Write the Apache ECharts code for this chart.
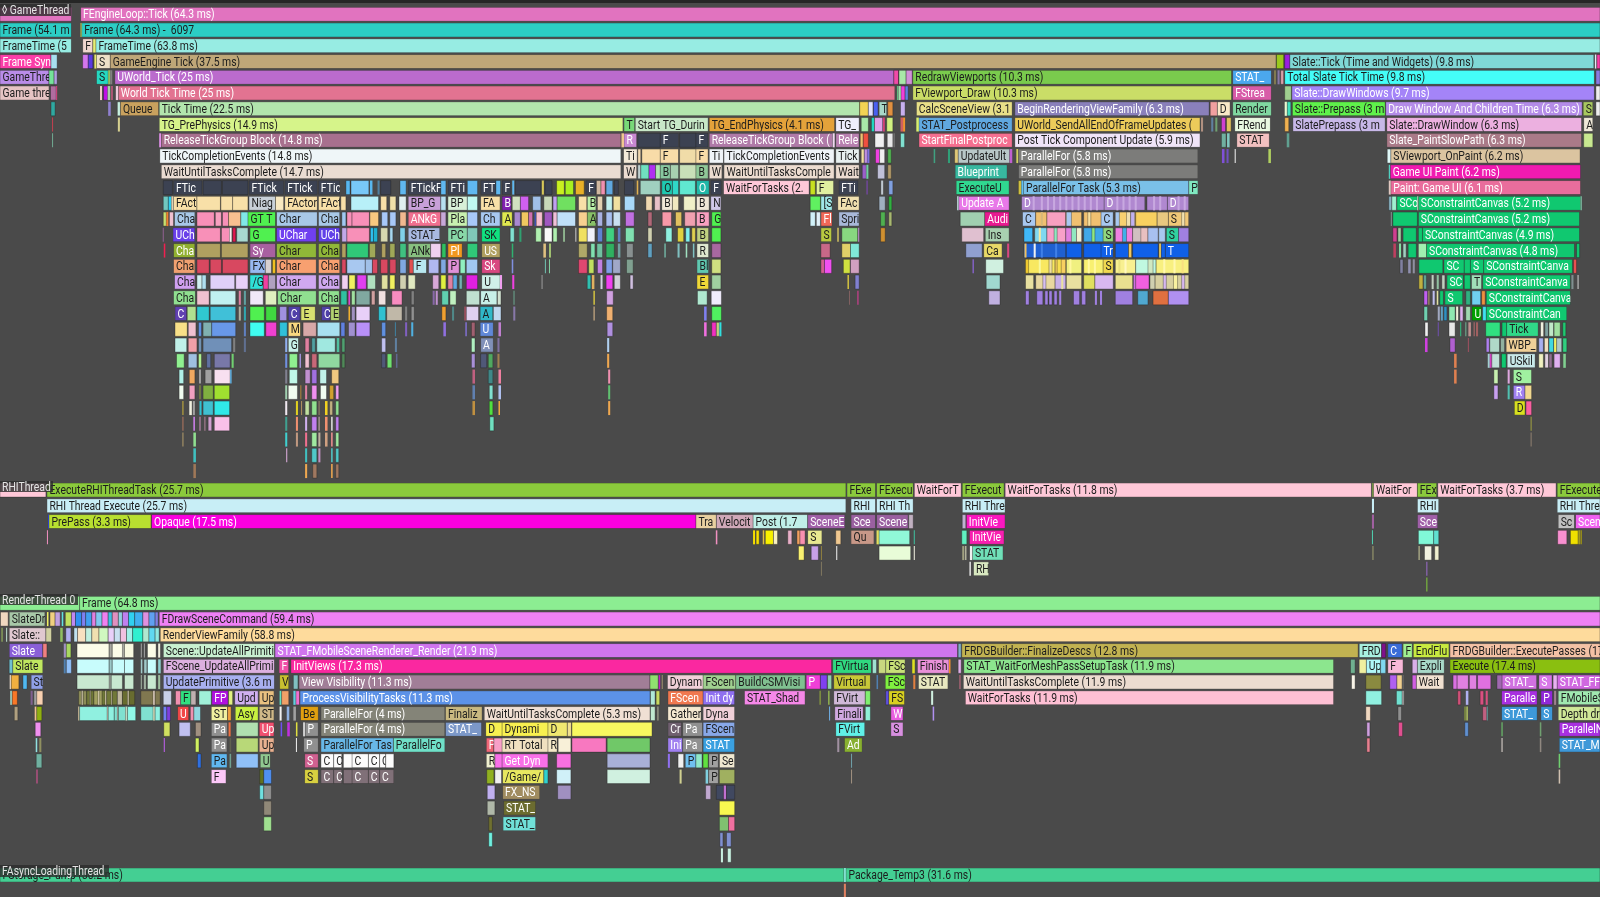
<!DOCTYPE html>
<html><head><meta charset="utf-8"><title>Timing Insights</title>
<style>html,body{margin:0;padding:0;background:#4a4a4a}#c{width:1600px;height:897px}</style>
<script src="https://cdn.jsdelivr.net/npm/echarts@6/dist/echarts.min.js"></script></head>
<body><div id="c"></div><script>
const D='#3c4252';
// each span: [start, end, event colour, label]  (time in timeline units)
const game0=[[0,70,'#e173bf'],[79,1568,'#e173bf','FEngineLoop::Tick (64.3 ms)']];
const game1=[[0,70,'#2ccdc4','Frame (54.1 m'],[79,80,'#d8ef56'],[80,1568,'#2ccdc4','Frame (64.3 ms) -  6097']];
const game2=[[0,70,'#97ece3','FrameTime (5'],[81,91,'#efd6cf','F'],[91,94,'#e5ee74'],[94,1568,'#97ece3','FrameTime (63.8 ms)']];
const game3=[[0,50,'#fb3ea8','Frame Syn'],[50,56,'#a8dff0'],[81,86.5,'#d476ee'],[86.5,91,'#5a3ae0'],[92.5,94.5,'#e8e86a'],[94.5,108,'#ede0c8','S'],[108,1250.5,'#bfa778','GameEngine Tick (37.5 ms)'],[1251,1258,'#9bc91e'],[1259,1264,'#9a1fe0'],[1264,1562,'#7fd8d6','Slate::Tick (Time and Widgets) (9.8 ms)'],[1563,1564.5,'#e8e8f8'],[1565,1568,'#fb3ea8']];
const game4=[[0,48,'#b98ce8','GameThre'],[48,53,'#74e29a'],[53,56,'#b0a0e0'],[94.5,106,'#25d8c0','S'],[106,108,'#90c060'],[108,110,'#808080'],[112.5,876,'#bb6bcd','UWorld_Tick (25 ms)'],[876,880.5,'#f04aa8'],[881,888,'#a8e8a8'],[888,894,'#d090d8'],[894.5,1207,'#7acb4d','RedrawViewports (10.3 ms)'],[1208,1246,'#4ba8ee','STAT_'],[1248.5,1250.5,'#807a50'],[1252,1254,'#8878a8'],[1255,1258,'#d8a0a8'],[1259,1562.5,'#44fdf8','Total Slate Tick Time (9.8 ms)'],[1564,1568,'#8a7ae0']];
const game5=[[0,48,'#e6c4c4','Game thre'],[49.5,55,'#b06ca0'],[55,56,'#d84080'],[98,100,'#f0c8c8'],[101.5,105.5,'#c010e8'],[105.5,108,'#a8d0a8'],[109,110.5,'#c85a80'],[113.5,116,'#eecadb'],[116,877,'#e27391','World Tick Time (25 ms)'],[879,880,'#60c080'],[880.5,883,'#a0e0b0'],[883,887,'#f040d8'],[887,890,'#6080e0'],[894.5,1207,'#cadd67','FViewport_Draw (10.3 ms)'],[1208,1246,'#d85ca8','FStrea'],[1259,1265.5,'#a0d090'],[1266,1562.5,'#a484f8','Slate::DrawWindows (9.7 ms)'],[1564,1568,'#eeeeee']];
const game6=[[50,54,'#30a8a0'],[106,108.5,'#9080d0'],[115,118,'#c8f0e0'],[118,155.5,'#c9a15e','Queue'],[156,842.5,'#b2e5ad','Tick Time (22.5 ms)'],[842.5,851,'#f2d354'],[851,855.5,'#e0e0ff'],[856,860.5,'#4a60f0'],[861.5,869,'#a8d8c8','T'],[870,875,'#e09040'],[882.5,887,'#c8b0f0'],[898,992,'#e8df88','CalcSceneView (3.1'],[994.5,1185,'#8a80bb','BeginRenderingViewFamily (6.3 ms)'],[1186,1193,'#f0a0a0'],[1193,1205.5,'#f8e8c8','D'],[1208,1246,'#80d8a0','Render'],[1259,1261.5,'#e8f8d0'],[1261.5,1265,'#40e0c0'],[1266.5,1357.5,'#5ff14b','Slate::Prepass (3 m'],[1358,1550.5,'#b48ce8','Draw Window And Children Time (6.3 ms)'],[1551.5,1561,'#a8c860','S'],[1564,1568,'#eeeeee']];
const game7=[[51,52,'#c04050'],[115.5,117.5,'#d6d090'],[156,610.5,'#d6f48a','TG_PrePhysics (14.9 ms)'],[611.5,622,'#78d878','T'],[622.5,694,'#c8e8c8','Start TG_Durin'],[695,818,'#e4a23a','TG_EndPhysics (4.1 ms)'],[819,842,'#eeeefc','TG_'],[844,851,'#a8e8a8'],[854,857,'#20d8c0'],[857,865,'#e0a0e8'],[865.5,867,'#f04080'],[869,875,'#d0f080'],[882.5,885,'#d06060'],[885,887,'#f09030'],[898,900.5,'#d8f070'],[900.5,992,'#60a8e0','STAT_Postprocess'],[994.5,1176,'#eccb5a','UWorld_SendAllEndOfFrameUpdates ('],[1177,1179,'#b09080'],[1187,1189,'#6080a0'],[1191,1193,'#70a070'],[1197,1201,'#d040d0'],[1202,1206.5,'#e0c060'],[1210,1245,'#e8f8e0','FRend'],[1259,1263,'#f0b050'],[1267,1357.5,'#c8b8e8','SlatePrepass (3 m'],[1359,1550,'#ecb0e0','Slate::DrawWindow (6.3 ms)'],[1552,1561,'#eee8d8','A']];
const game8=[[51,52,'#70a890'],[156,158,'#e090e8'],[158,608.5,'#a8708e','ReleaseTickGroup Block (14.8 ms)'],[609,611.5,'#f0c890'],[611.5,624,'#c888d0','R'],[625,647,D],[647,665,D,'F'],[666,682,D],[682,694,D,'F'],[695,816,'#b07aa8','ReleaseTickGroup Block ('],[816,818,'#f0d8f0'],[819,842,'#b880b0','Rele'],[843,846,'#f0c070'],[846,851,'#f05040'],[857.5,866.5,'#f0f0f0'],[869.5,875,'#e8e8e8'],[875.5,877,'#707070'],[882.5,886.5,'#80e0d0'],[900.5,992,'#f56f90','StartFinalPostproc'],[994.5,1176,'#f0e4f8','Post Tick Component Update (5.9 ms)'],[1197,1201.5,'#70b0a0'],[1202.5,1205,'#80c8c0'],[1212,1244,'#f2c0c0','STAT'],[1261,1263.5,'#60a090'],[1359,1550,'#aa7a88','Slate_PaintSlowPath (6.3 ms)'],[1552,1561,'#c8e890']];
const game9=[[156.5,608.5,'#eff6f8','TickCompletionEvents (14.8 ms)'],[611,624.5,'#f4ead8','Ti'],[625,628,'#f0d8b0'],[629,647,'#f8dca8'],[647,665,'#f8dca8','F'],[666,682,'#f0dca8'],[682,694,'#f8dca8','F'],[695,709,'#f0f4f8','Ti'],[709.5,817.5,'#f0f4f8','TickCompletionEvents'],[819,842,'#e8f0f0','Tick'],[844,847,'#f0e0a0'],[847,850,'#c090e0'],[850,852,'#8070e0'],[858,862,'#f040e0'],[862,867,'#f0f0f0'],[870,873.5,'#50b050'],[915,916.5,'#40a080'],[929,931,'#30a078'],[935.5,939,'#e0c878'],[939,989.5,'#b8c8c8','UpdateUlt'],[989.5,992,'#c060d0'],[996,998,'#d0d060'],[998,1174,'#7c7c7a','ParallelFor (5.8 ms)'],[1197.5,1200,'#8050d8'],[1202,1204,'#7050c0'],[1210,1211,'#f0f0f0'],[1243,1245.5,'#b0d060'],[1359.5,1363,'#e0f8f8'],[1363,1548.5,'#dbc4a0','SViewport_OnPaint (6.2 ms)']];
const game10=[[158,608.5,'#eadcd2','WaitUntilTasksComplete (14.7 ms)'],[611,624,'#ecdcd0','W'],[625,628,'#c0d0d0'],[628,636,'#70e0c0'],[636,642.5,'#b030f0'],[642.5,647,'#b0e8b0'],[647,657,'#88c8a0','B'],[657,665,'#a8d0b0'],[666,682,'#c8e0b8'],[682,694,'#90c898','B'],[695,707.5,'#ecdcd0','W'],[709.5,817.5,'#ecdcd0','WaitUntilTasksComple'],[819,842,'#ecdcd0','Wait'],[845,849,'#9a60c8'],[849,851,'#70d0a0'],[860,867,'#c0c0d8'],[870,873.5,'#b09868'],[936,987,'#38b8a0','Blueprint'],[998,1174,'#7c7c7a','ParallelFor (5.8 ms)'],[1361,1362.5,'#50d0c0'],[1362.5,1549,'#f01ab0','Game UI Paint (6.2 ms)']];
const game11=[[160,169,D],[170,198,D,'FTic'],[199,217,D],[218,243,D],[244,278,D,'FTick'],[279,311,D,'FTick'],[312,333,D,'FTic'],[339,343,'#58b8f0'],[344,361.5,'#78c8f8'],[362.5,365,'#58b8f0'],[370,372,'#5080a0'],[373,383,D],[392,398,'#60b8f0'],[400,432,D,'FTickF'],[432,437,'#60b8f0'],[439,457,D,'FTi'],[458,468,'#60b8f0'],[471,486,D,'FT'],[486,490.5,'#60b8f0'],[492,501,D,'F'],[502,504,'#60b8f0'],[505,530,D],[531,533,'#d8c858'],[534,541,D],[545.5,553,'#c8f020'],[554,562,'#a8f020'],[564,572.5,'#e8b028'],[574,584,D,'F'],[584.5,589,'#d0b8a0'],[589,593,'#f090b0'],[594,600.5,'#60a8e0'],[602,606,D],[612,621,D],[624,625.5,'#e0b050'],[627.5,647,'#a0d0c0'],[648.5,659,'#20c8b0','O'],[659,665,'#30d8c8'],[666,681.5,'#60e8d0'],[682.5,695,'#20b8a8','O'],[696.5,707,D,'F'],[709,793,'#ffc8d8','WaitForTasks (2.'],[794,799,'#c8e020'],[800,817,'#e0f0a0','F'],[822,841,D,'FTi'],[849,850.5,'#704898'],[863.5,865.5,'#c0c8d0'],[871,875,'#80a0e0'],[937,989,'#30d890','ExecuteU'],[998,1001,'#d0c040'],[1001,1003,'#60c0f0'],[1003,1165,'#7ac0e8','ParallelFor Task (5.3 ms)'],[1165,1174,'#80e8c0','P'],[1361,1363,'#e0c8c0'],[1363,1549,'#e96d9c','Paint: Game UI (6.1 ms)']];
const game12=[[160,165,'#70c8c0'],[165,168,'#30d0f0'],[168,170,'#e0d0b0'],[170,193,'#f8e0a8','FAct'],[193,216,'#f8e0a8'],[216.5,228,'#f8e0a8'],[228,243,'#f8e0a8'],[244,270,'#c8d0d8','Niag'],[270,278,'#f8e8c0'],[279,311,'#f8e0a8','FActor'],[312,333,'#f8e0a8','FAct'],[334,339,'#f8e0a8'],[344,371,'#b8f0f8'],[373,379,'#f8e0a8'],[382,388,'#f0e0a8'],[391,398,'#e0f0f0'],[400,432,'#c8a0d8','BP_G'],[432,437,'#b8e0f0'],[439,458,'#d8f0d8','BP'],[458,468,'#c0f8f0'],[471,490,'#f8e0a8','FA'],[492,501,'#8020b0','B'],[502,510,'#d0e0c0'],[510,518,'#d060f0'],[522,530,'#a0c0e8'],[533,541,'#c8d8b8'],[542,546,'#c0a0f0'],[546,564,'#70e060'],[567,575,'#f8e0a8'],[575.5,584,'#b8f0a8','B'],[585.5,590.5,'#e0d0b0'],[594,600,'#c0f0f0'],[601,608,'#f0e0a0'],[612,622,'#a8d8f8'],[633,639,'#f0d8b0'],[641.5,647,'#e8c0c8'],[648.5,659,'#f0e8d8','B'],[659,665,'#f0e8c0'],[670,681.5,'#f0f0c8'],[682.5,695,'#f0e8d8','B'],[696.5,706.5,'#d0c8e8','N'],[794,804,'#60f060'],[804.5,815.5,'#a0e8e8','[S'],[821,842,'#f0e0b0','FAc'],[861.5,867.5,'#a0b0c0'],[871,874,'#30b040'],[938,939.5,'#c0e0e0'],[939.5,989,'#e878e8','Update A'],[1001,1082,'#b088d0','D'],[1082,1122,'#b088d0','D'],[1124,1144,'#b088d0'],[1144,1165,'#b088d0','D'],[1361,1364,'#88b0c0'],[1364,1368.5,'#a0f0d0'],[1369,1389,'#10c870','SCo'],[1389,1390,'#e0f8e0'],[1390,1549,'#10c870','SConstraintCanvas (5.2 ms)'],[1549,1550,'#90e0c0']];
const game12Slices=[[1012,1014,'#c8a8e0'],[1020,1022,'#c8a8e0'],[1026,1028,'#c8a8e0'],[1032,1034,'#c8a8e0'],[1038,1040,'#c8a8e0'],[1044,1046,'#c8a8e0'],[1050,1052,'#c8a8e0'],[1056,1058,'#c8a8e0'],[1062,1064,'#c8a8e0'],[1068,1070,'#c8a8e0'],[1074,1076,'#c8a8e0'],[1094,1096,'#c8a8e0'],[1100,1102,'#c8a8e0'],[1106,1108,'#c8a8e0'],[1112,1114,'#c8a8e0'],[1130,1132,'#c8a8e0'],[1136,1138,'#c8a8e0'],[1154,1156,'#c8a8e0'],[1160,1162,'#c8a8e0']];
const game13=[[160,163,'#c8e070'],[163,165,'#f08030'],[166,170,'#f0c0d0'],[171,191,'#a8c8e8','Cha'],[193,210,'#f890b8'],[211,217,'#f8a0c0'],[218,224,'#f890b8'],[224,236,'#f8c090'],[236,243,'#80e8e8'],[243,270,'#50f050','GT T'],[271,311,'#a8c8e8','Char'],[312,333,'#a8c8e8','Cha'],[335,339,'#a0c8f0'],[340,345,'#f890b8'],[345,362,'#f890b8'],[362.5,371,'#f8c880'],[374,380,'#a8c8f8'],[382,388,'#a8c8f8'],[392,398,'#f0b890'],[400,432,'#f07090','ANkG'],[432,437,'#c8a8d8'],[439,458,'#c8f0b0','Pla'],[458,468,'#a8c8f8'],[471,490,'#a8c8f0','Ch'],[492,502,'#e0e850','A'],[504,510,'#a888d0'],[511,518,'#f0c860'],[518,522,'#d070b0'],[524,525,'#4060f0'],[525.5,531.5,'#f8c0d0'],[533.5,541,'#a058c0'],[542,546,'#f0c0d8'],[546,564,'#c0e0f8'],[567,575.5,'#f8d090'],[575.5,584,'#88c068','A'],[585.5,590.5,'#a8b0e0'],[594,600,'#a8c0f0'],[601,608,'#c8e0f0'],[613,621.5,'#c070e0'],[635,639,'#b06878'],[649,658,'#f898a8'],[662,668,'#e0c060'],[671,681.5,'#f0a0b0'],[682.5,695,'#f8a0c0','B'],[697.5,706.5,'#50f050','G'],[794,799,'#d0f0f8'],[800,804,'#e0f0f8'],[804.5,815.5,'#f06858','Fl'],[822,842,'#a8b8d8','Spri'],[863,867.5,'#50b050'],[871,874,'#a8b870'],[941,965,'#a0d0b0'],[965,989,'#e81a90','Audi'],[1002,1015,'#a8c8f0','C'],[1015,1026,'#f0c070'],[1026,1044.5,'#f8a0c0'],[1044.5,1060,'#f0c070'],[1062,1079,'#f0c070'],[1079,1091,'#a8c8f0','C'],[1093,1113,'#f8d070'],[1113,1134,'#f8d060'],[1134,1145,'#e8c880'],[1145,1165,'#f0c878','S'],[1363,1364,'#809090'],[1365,1389,'#10c870'],[1390,1548,'#10c870','SConstraintCanvas (5.2 ms)']];
const game13Slices=[[1020,1022,'#d8b878'],[1045,1050,'#a8c8f0'],[1066,1069,'#f8e0a0'],[1093,1097,'#a8c8f0'],[1104,1108,'#f0e0b0'],[1108,1112,'#c0b0f0'],[1158,1161,'#f0e0b0']];
const game14=[[159.5,160.5,'#906090'],[169.5,191,'#6a40e8','UCh'],[193,216,'#f890b8'],[217,225,'#f890b8'],[225,227,'#f8f0f0'],[228,231,'#e01850'],[232,243,'#a8d8d0'],[245,270,'#50f050','G'],[271,310,'#7040f0','UChar'],[312,333,'#6040e8','UCh'],[335,340,'#c0a8e8'],[340,362,'#f890b8'],[363,366,'#30c0f0'],[366,370,'#20b0d0'],[373,380,'#d8d8b0'],[382,385,'#a8d8f0'],[392,397,'#80d0e8'],[400,431,'#a8b8e0','STAT_'],[439,458,'#88d8a8','PC'],[458,468,'#80c8b8'],[472,490,'#10e080','SK'],[500,504,'#80e0d0'],[509,511,'#30a070'],[525,530.5,'#b0f0b0'],[533.5,541,'#f8f8f8'],[542,546,'#b0f0b0'],[552,553.5,'#a0d0a0'],[563.5,565,'#a0a0a0'],[567,575.5,'#f0e060'],[575.5,583,'#f0f0f8'],[585.5,590.5,'#6080d0'],[594,602,'#40d080'],[605.5,608,'#6080c0'],[613,621.5,'#80e0b0'],[635,639,'#d0d0b0'],[652.5,658.5,'#90f0e0'],[664,670,'#e0d040'],[672,676,'#80f0f0'],[678,681.5,'#e0d050'],[683,694.5,'#c0d080','B'],[697.5,706.5,'#50f050'],[804.5,815,'#b8c840','S'],[820.5,822,'#d0c060'],[825,840.5,'#88d880'],[841,842,'#c090d0'],[863,867.5,'#d09030'],[942.5,964,'#e0c0d0'],[965.5,989,'#a8d0b0','Ins'],[1003.5,1012,'#40b8f8'],[1014,1026,'#80d8f0'],[1026,1044.5,'#f8a0c8'],[1044.5,1060,'#e080e0'],[1062,1081,'#40a8e8'],[1081,1091,'#90d880','S'],[1093,1110,'#f080e0'],[1110,1135.5,'#d0c0c0'],[1135.5,1142,'#a8c8f0'],[1143,1155,'#30d0a0','S'],[1155,1165,'#a080e0'],[1365,1369,'#d04090'],[1370,1373,'#a0d0a0'],[1375,1388,'#10c870'],[1390,1394,'#10c870'],[1394,1548,'#10c870','SConstraintCanvas (4.9 ms)']];
const game14Slices=[[1018,1020,'#f8e8a0'],[1033,1036,'#90e8c0'],[1050,1055,'#90e8c0'],[1055,1060,'#f0f0d0'],[1070,1073,'#90e880'],[1100,1104,'#40b0e8'],[1118,1125,'#e8c0c0'],[1125,1135,'#a8c0f0']];
const game15=[[160.5,162,'#f02050'],[170,191,'#90b030','Cha'],[193,216,'#b0a060'],[217,243,'#b0a060'],[245,270,'#a860a0','Sy'],[271,310,'#90b838','Char'],[312,333,'#90b838','Cha'],[335,339,'#b0a060'],[340,361,'#30c878'],[362,368,'#a0a858'],[374,378,'#b0a060'],[382,387,'#a0a858'],[392,398,'#40c080'],[400,422,'#88c080','ANk'],[422,432,'#f0d0f0'],[433,437,'#30c060'],[439,453,'#f09820','Pl'],[458,468,'#30c878'],[472,490,'#b0a060','US'],[501.5,503,'#30b070'],[532.5,535,'#e0c080'],[538,540,'#a0c070'],[567,575.5,'#b0a868'],[579,583,'#80e0b0'],[585,590.5,'#70c0a0'],[594,602,'#30b060'],[605.5,608,'#70a0a0'],[614,620.5,'#889090'],[635,639,'#60a0c0'],[651,652.5,'#70b0a0'],[664,666,'#80c0c0'],[672,673.5,'#a0e0c0'],[679,680.5,'#80c0c0'],[683,694.5,'#e0e8d0','R'],[697.5,706.5,'#a868a0'],[804.5,813.5,'#c86888'],[825,833.5,'#e0d068'],[833.5,842,'#80e8d8'],[946.5,962.5,'#90a0d0'],[964,982,'#e8d868','Ca'],[987,989,'#d84880'],[1003.5,1044.5,'#2060d0'],[1045,1060,'#1060e8'],[1062,1079,'#1060e8'],[1079,1091,'#1060e8','Tr'],[1093,1106,'#1060e8'],[1106,1109,'#f0c860'],[1110,1135,'#1060e8'],[1136,1138,'#f0d060'],[1138,1142,'#1060e8'],[1142,1165,'#1060e8','T'],[1365.5,1368,'#c04060'],[1371,1373,'#80e0a0'],[1375,1378,'#a0d0c0'],[1380,1388,'#10c870'],[1390,1398,'#a0f0b0'],[1398,1543,'#10c870','SConstraintCanvas (4.8 ms)'],[1545,1548,'#10c870']];
const game15Slices=[[1004,1006,'#f0c060'],[1013,1015,'#f0f0f0'],[1020,1022,'#4080e8'],[1034,1036,'#4080e8']];
const game16=[[170,191,'#f0a070','Cha'],[193,205,'#d84860'],[206,217,'#d84860'],[218,243,'#d84860'],[245,260,'#98b8f0','FX'],[260,266,'#d8d0d0'],[267,270,'#f0c020'],[271,310,'#f8a070','Char'],[312,333,'#f8a070','Cha'],[335,339,'#d84860'],[340,358,'#a8c8f0'],[358,365,'#a0c0e8'],[365,370,'#d84860'],[373,380,'#d84860'],[382,388,'#d84860'],[392,398,'#80a8e0'],[401,405,'#e05050'],[405,418,'#b8e8f0','F'],[420,430,'#b0b8f0'],[432,437,'#80a8e0'],[439,450,'#e090d8','P'],[451,456,'#90f0c0'],[457,468,'#a0c8f0'],[472,490,'#d84880','Sk'],[501.5,503,'#8090e0'],[534,535,'#70c0b0'],[538,539,'#80d0a0'],[567,575.5,'#e04870'],[577,582,'#c0e060'],[585.5,590.5,'#c080e0'],[594,600,'#80a0e8'],[600.5,608,'#a0a8c8'],[614,620.5,'#80a090'],[683,694.5,'#60c8b0','Bl'],[697.5,706.5,'#d0e080'],[804.5,808,'#d06090'],[808,815,'#f050f0'],[826.5,833,'#d0e040'],[833.5,842,'#d0a0c0'],[953,954.5,'#8060c0'],[966,983.5,'#d0f0e0'],[1005,1034,'#f8e860'],[1034,1044.5,'#f8d060'],[1045,1060,'#f0f080'],[1062,1081,'#f8f070'],[1081,1091,'#f0d850','S'],[1093,1113,'#f8f090'],[1113,1133,'#c0f8e0'],[1133,1165,'#f8f080'],[1372,1375,'#8080a0'],[1380,1382.5,'#9090b0'],[1384.5,1386.5,'#9090a0'],[1390.5,1414,'#10c870'],[1415,1435,'#10c870','SC'],[1435,1441,'#10c870'],[1441,1454,'#10c870','S'],[1454,1541,'#10c870','SConstraintCanva'],[1542,1545,'#e85050']];
const game16Slices=[[1005,1008,'#f0c830'],[1018,1020,'#f8f8a0'],[1028,1031,'#f0e0a0'],[1036,1040,'#f8e050'],[1048,1050,'#fff8a0'],[1066,1068,'#fff8a0'],[1072,1074,'#fff8a0'],[1096,1098,'#e8e080'],[1102,1104,'#fff8c0'],[1125,1130,'#d0e8c0'],[1140,1142,'#fff8b0'],[1150,1152,'#fff8b0'],[1158,1160,'#f8e080']];
const game17=[[171,191,'#d0a0f0','Cha'],[193,198,'#d0f0f0'],[198,202,'#b0e0f0'],[206,230,'#e0d0f8'],[231,243,'#e8d0f8'],[245,258,'#30e0d8','/G'],[258,263,'#f040a0'],[263,270,'#b0a0c0'],[271,310,'#d0a8f0','Char'],[312,333,'#d0a8f0','Cha'],[335,341,'#f0d0f0'],[342,348,'#f0f060'],[350,359,'#e040f0'],[360,368,'#b0e0c0'],[374,380,'#e0e0a0'],[382,387,'#f0f060'],[392,398,'#d0d0b0'],[400,407,'#e0e8c0'],[424,430,'#d8a8d8'],[432,437,'#e0f040'],[439,444,'#e080a0'],[444,448,'#60a8e0'],[450,453,'#70b0b0'],[457,468,'#e020e0'],[472,490,'#d0f0e8','U'],[490,492,'#f0a0f0'],[502,504,'#f040e0'],[530.5,532,'#808080'],[575.5,579,'#30c0b0'],[580,582.5,'#e0b060'],[588.5,590.5,'#d0d0e0'],[594,600.5,'#f040f0'],[602,608,'#d0d0d8'],[617.5,620.5,'#d0c0e0'],[683,694.5,'#f0d838','E'],[697.5,706.5,'#a0d0a0'],[830.5,832,'#d0c040'],[838,842,'#8080d0'],[966.5,980,'#a0d8d0'],[1005,1013,'#e8e0a0'],[1015,1034,'#e8d8a0'],[1034,1044.5,'#c8b0e8'],[1045,1060,'#e8e0a0'],[1062,1073,'#e0e060'],[1073,1091,'#d8b8f0'],[1093,1110,'#e8e090'],[1111,1113,'#d070e0'],[1113,1126,'#f060e0'],[1127,1132,'#d0d0b0'],[1132,1165,'#d8d0a0'],[1390.5,1394.5,'#c0b040'],[1395,1398,'#60a090'],[1403,1405,'#c0d0c0'],[1408,1410,'#90c0a0'],[1413,1416,'#c0d0c0'],[1418,1434,'#10c870','SC'],[1435,1441,'#10c870'],[1442,1452,'#a0e0b8','T'],[1453,1539,'#10c870','SConstraintCanva'],[1540,1542,'#809090'],[1546,1547,'#d0d0d0']];
const game17Slices=[[1022,1025,'#d8c0f0'],[1040,1042,'#e8e0a0'],[1140,1143,'#d8b8f0'],[1150,1154,'#f8f0a0'],[1158,1161,'#d8b8f0']];
const game18=[[170,191.5,'#90e090','Cha'],[193,205,'#f0c0d0'],[206,231,'#c0f0f0'],[234,236,'#e080a0'],[239,241,'#60a0a0'],[245,258,'#f0e8f8'],[260,271,'#e0f0c0'],[272,310,'#90e090','Char'],[312,332.5,'#90e090','Cha'],[334,340,'#30c0a0'],[341.5,343,'#e040d0'],[344.5,348,'#a0e0a0'],[349,362.5,'#80a8a0'],[364,367.5,'#d0a0a0'],[371,378,'#f0e0e0'],[384,394,'#f88cc0'],[403,406,'#808080'],[424,426,'#8868a8'],[427,429,'#c090d0'],[433,439.5,'#60d0b0'],[441,447,'#c0f0c0'],[457,470,'#c0e0d0'],[471,487,'#c8f0e8','A'],[487.5,491,'#d0e0d0'],[503,504.5,'#608878'],[581.5,583,'#d0c040'],[594.5,601,'#d0a0e0'],[683.5,693,'#b0e8d0'],[697,707,'#f0ecfc'],[832,833,'#806060'],[840,841.5,'#b04080'],[969,980,'#c0b0e0'],[1005,1008.5,'#a080e0'],[1016,1022,'#a080e0'],[1024,1027,'#a080e0'],[1028,1031,'#a080e0'],[1033,1036,'#a080e0'],[1038,1040,'#a080e0'],[1052,1058,'#a080e0'],[1060,1064,'#a080e0'],[1073,1075,'#a080e0'],[1078,1080,'#a080e0'],[1093,1110,'#a080e0'],[1115,1125,'#50a8d0'],[1130,1145,'#e07040'],[1145,1165,'#b090f0'],[1395.5,1399,'#c060f0'],[1399.5,1401,'#908060'],[1404,1406,'#c0c0f0'],[1408,1409.5,'#e0e0a0'],[1411,1414.5,'#10c870'],[1416,1433.5,'#10c870','S'],[1436.5,1441,'#30b080'],[1442.5,1451,'#70d0f0'],[1452,1455.5,'#f09040'],[1456.5,1539,'#10c870','SConstraintCanva']];
const game19=[[171.5,183,'#6040b0','C'],[183.5,192,'#b0e090'],[193,205,'#30c8d0'],[206,231,'#40c0d8'],[234,236,'#b0b0a0'],[239,241,'#30a8b0'],[245,259,'#50f050'],[260.5,271,'#40d840'],[274,281,'#a090e0'],[282.5,294,'#5040a8','C'],[295,309,'#d8e070','E'],[315,323.5,'#5040a8','C'],[324,332.5,'#b0d070','E'],[341.5,343,'#f0b030'],[344.5,348,'#a090c0'],[349,362.5,'#e8d0f8'],[371,378,'#30c0d0'],[379,394,'#c0b8a8'],[397,399,'#808080'],[403,406,'#909090'],[433,437,'#f0a030'],[443,445,'#508888'],[455,457,'#a05060'],[457,469,'#e0d0f0'],[470.5,483,'#30b8c8','A'],[483.5,491,'#c0d8f0'],[503,505,'#8878a8'],[581.5,583,'#b09878'],[594.5,600.5,'#f0b070'],[690,692.5,'#8080f0'],[697.5,707,'#50f060'],[1395.5,1399,'#70d0b0'],[1409,1411,'#a0a8c0'],[1412,1414,'#60a0c0'],[1415,1418,'#3090c0'],[1420,1426,'#90e8b0'],[1427,1429,'#f0f0d8'],[1431,1433.5,'#e0b0f0'],[1436.5,1441,'#a0d8b0'],[1442.5,1452,'#00a000','U'],[1453,1456.5,'#40e0f0'],[1456.5,1535.5,'#10c870','SConstraintCan']];
const game20=[[171.5,183.5,'#f8e088'],[184.5,192,'#f0c0d0'],[194.5,197.5,'#6090e0'],[199,207.5,'#80b0b0'],[207.5,231,'#6898e8'],[239,241,'#6080c0'],[245,259,'#40fdf0'],[260.5,271,'#f040d0'],[274,281.5,'#30c0d8'],[282.5,294.5,'#f8d880','M'],[297,310,'#d8a8a8'],[311,333,'#a8e0f0'],[334,338,'#6080e0'],[341.5,348,'#a090d0'],[349,362.5,'#b890f8'],[374,378,'#6090e0'],[387,388,'#4080a0'],[397,399,'#8060c0'],[403,405,'#50b0e0'],[434.5,437,'#9070e0'],[456,457.5,'#8070d0'],[462,465.5,'#a06070'],[470.5,483.5,'#6088d8','U'],[488.5,491,'#c080d0'],[595,600.5,'#b090e0'],[690,692.5,'#f070e0'],[697.5,702,'#f030c0'],[702,705,'#c0d080'],[705,707,'#30e0e0'],[1396.5,1399.5,'#f0f0f0'],[1409,1410,'#7050b0'],[1420,1426,'#e8e8e8'],[1431,1432,'#30c080'],[1436,1437,'#70b090'],[1439,1441.5,'#c09090'],[1444,1445.5,'#906060'],[1446.5,1448.5,'#a06060'],[1456,1470,'#30e080'],[1472,1476.5,'#10c870'],[1476.5,1507.5,'#30d888','Tick'],[1510,1512.5,'#f0f0e0'],[1514,1517.5,'#80a0a0'],[1518,1522.5,'#c0e8c8'],[1523,1529,'#a0e0a0'],[1531.5,1534.5,'#20c870']];
const game21=[[171.5,183,'#c0f0e8'],[184.5,193,'#f0a0a8'],[194.5,197.5,'#7090b0'],[199,227,'#7090b8'],[228.5,230.5,'#808080'],[239,241,'#607090'],[279.5,281.5,'#90b0f0'],[282.5,292.5,'#c8f0e8','G'],[299,303,'#e080a0'],[305.5,309,'#50a0a0'],[310.5,328.5,'#a0e8e0'],[330,332.5,'#50c0a0'],[335,338,'#50a070'],[374,378,'#c0c0f0'],[387,389,'#6080a0'],[462,465.5,'#b0f0c0'],[471,483.5,'#8090b8','A'],[487.5,489.5,'#8070a0'],[595,597,'#b0d0f0'],[1396.5,1399,'#d040e0'],[1421,1426,'#b060d0'],[1438.5,1439.5,'#a05060'],[1456.5,1459.5,'#b080f0'],[1460,1469.5,'#b0d8c8'],[1470.5,1474.5,'#90b0a0'],[1476,1506,'#f0d098','WBP_'],[1508,1512.5,'#a8b0f0'],[1513.5,1517.5,'#f0e0c0'],[1518,1522.5,'#40d8e0'],[1523,1525.5,'#f0f060'],[1525.5,1530.5,'#b0c8c8'],[1531.5,1535.5,'#30d080']];
const game22=[[173,180.5,'#90f090'],[184.5,193,'#a0c0e0'],[194.5,197.5,'#b0f090'],[202.5,206.5,'#6070a0'],[210,225.5,'#7878a8'],[227,229,'#70d070'],[279.5,281.5,'#7090e0'],[283.5,291.5,'#90f090'],[293.5,295,'#a090d8'],[299,303,'#f0c0d0'],[305.5,310.5,'#c86878'],[312,333,'#90d8a0'],[335,338,'#508858'],[374,378,'#505878'],[379.5,384,'#70e070'],[388,389.5,'#606890'],[462,465.5,'#a890d8'],[471,477,'#505878'],[478.5,483,'#50a860'],[487.5,489.5,'#a08050'],[595,597,'#f0a850'],[1425,1427.5,'#e08050'],[1458,1460,'#a0d0d0'],[1460,1462,'#d040c0'],[1462,1469.5,'#c0e0d8'],[1471.5,1476,'#10c870'],[1477,1504.5,'#c8e8e8','USkil'],[1508,1512.5,'#f0f0c0'],[1514,1517.5,'#e0d0e0'],[1518,1521,'#907090'],[1523,1529,'#e0b0f0'],[1532,1534.5,'#80d090']];
const game23=[[175.5,180,'#b0f0e8'],[185.5,191,'#f0a860'],[195.5,196.5,'#f0f0f0'],[201,207.5,'#a0a0a0'],[210,225.5,'#f8e0f0'],[225.5,227,'#60b0e0'],[279.5,281.5,'#808090'],[283.5,291.5,'#c0f8e8'],[299,304,'#c090d0'],[305.5,310.5,'#a070e0'],[313.5,320,'#c0f0e8'],[325,332,'#f0c880'],[463,465.5,'#c06080'],[478.5,483,'#408888'],[488.5,491,'#f080a0'],[596,598,'#f090b0'],[1425,1427.5,'#e08050'],[1464,1468,'#c8f0b0'],[1477.5,1479.5,'#e0a8e0'],[1483,1501,'#a0f0a0','S']];
const game24=[[175.5,180,'#f0fcf0'],[185.5,191,'#f0a0c0'],[195.5,196.5,'#90a040'],[199,209,'#80b040'],[210,225,'#a0e030'],[279.5,281.5,'#a0d0b0'],[282.5,291.5,'#f0fcf0'],[294,295.5,'#907040'],[299,301,'#e080a0'],[305.5,310.5,'#f090f0'],[314,320,'#f0fcf0'],[323,327,'#d0a030'],[329,332,'#f0a0f0'],[463,465.5,'#6080b0'],[479.5,483,'#80e0d0'],[488.5,491,'#b0c0f0'],[596,598,'#60c070'],[1464,1468,'#c8a0f0'],[1477.5,1479.5,'#50c0b0'],[1483,1494.5,'#a080f0','R'],[1494.5,1501,'#f0d890']];
const game25=[[178.5,180,'#a09040'],[185.5,188,'#f0f0e0'],[189,191,'#a0a0a0'],[195.5,197.5,'#30c0d0'],[199,209,'#40c0d0'],[210,225,'#30e8e8'],[279.5,281.5,'#f0e8f0'],[290,292,'#e0d020'],[295,296,'#b09060'],[299,303,'#c0e0a0'],[305.5,310.5,'#90e090'],[312,313.5,'#807060'],[318.5,321,'#f0d020'],[323,326,'#c0b080'],[329,332,'#90e090'],[463,465.5,'#c09040'],[479.5,483,'#50e040'],[488.5,490,'#f0a840'],[596,598,'#f0a850'],[1484,1494.5,'#d8e020','D'],[1495.5,1501,'#f860a0']];
const game26=[[178.5,180,'#906858'],[189.5,191,'#d080f0'],[195.5,196.5,'#d090c0'],[200,201.5,'#907080'],[204,207.5,'#d0a0d0'],[210,225,'#f8c0e8'],[279.5,281.5,'#40a090'],[290,292,'#f09070'],[299,301,'#d0b0f0'],[305.5,310.5,'#c080f0'],[312,313.5,'#a09090'],[318.5,321,'#f09070'],[324.5,326,'#e0e0e0'],[329,332,'#c080f0'],[480,484,'#70e0c0'],[1500,1501,'#a0a040']];
const game27=[[178.5,180,'#908060'],[189.5,192,'#90e090'],[279.5,281.5,'#40d0d0'],[290,292,'#c09880'],[299,301,'#f07090'],[305.5,310.5,'#a0e8a0'],[312,314,'#c0b0a0'],[318.5,321,'#d0a080'],[324.5,326,'#f09090'],[329,332,'#a0e8a0'],[1500,1501,'#908070']];
const game28=[[189.5,192,'#40c0c0'],[280.5,281.5,'#e0b0e0'],[299,301,'#40c0c0'],[305.5,310.5,'#50c8c8'],[312,314,'#c090c0'],[324.5,326,'#50c8c8'],[329,332,'#50c8c8']];
const game29=[[189.5,192,'#a07858'],[299,301,'#f0a850'],[306.5,310.5,'#a07860'],[324.5,326,'#f0a850'],[329,332,'#a07860']];

const rhi0=[[0,45,'#ffc8d8'],[46,829,'#8bca3c','ExecuteRHIThreadTask (25.7 ms)'],[830,858,'#8bca3c','FExe'],[859,895,'#8bca3c','FExecu'],[896,942,'#ffc8d8','WaitForT'],[943,984,'#8bca3c','FExecut'],[985,1344,'#ffc8d8','WaitForTasks (11.8 ms)'],[1345,1346,'#8bca3c'],[1346,1389,'#ffc8d8','WaitFor'],[1389,1408,'#8bca3c','FEx'],[1409,1525,'#ffc8d8','WaitForTasks (3.7 ms)'],[1526,1568,'#8bca3c','FExecute']];
const rhi1=[[46,829,'#c8eef6','RHI Thread Execute (25.7 ms)'],[834,858,'#c8eef6','RHI'],[859,895,'#c8eef6','RHI Th'],[943,985,'#c8eef6','RHI Thre'],[1344.5,1346.5,'#c8eef6'],[1389,1410,'#c8eef6','RHI'],[1526,1568,'#c8eef6','RHI Thre']];
const rhi2=[[47,48,'#3040d0'],[48,148,'#b8e030','PrePass (3.3 ms)'],[148.5,682,'#fa00e0','Opaque (17.5 ms)'],[682,702,'#e8d0a0','Tra'],[702,738,'#d0a8b8','Velocit'],[738,791.5,'#c0f0e8','Post (1.7'],[791.5,828,'#a060a8','SceneE'],[834,858,'#9a60a0','Sce'],[859,890,'#9a60a0','Scene'],[890.5,895,'#c0b0c0'],[943,946.5,'#c0b0d0'],[947,985,'#fa18c0','InitVie'],[1344.5,1346.5,'#a060a0'],[1389,1409,'#a060a8','Sce'],[1527,1543,'#c0c0c0','Sc'],[1544,1568,'#f060f0','Scen']];
const rhi3=[[46,47,'#f090c0'],[701.5,703,'#f090c0'],[738,740,'#f8e000'],[741,744,'#f8e000'],[747.5,749,'#e0c040'],[750,758,'#f8f000'],[758,762,'#f8f0c0'],[772,776,'#e8b0c8'],[781,784,'#f0a060'],[784,789,'#f890b0'],[791.5,805.5,'#e8e890','S'],[819,824,'#f0c890'],[834,856.5,'#c89888','Qu'],[859,861.5,'#e0e060'],[861.5,891.5,'#90f8d8'],[895.5,896.5,'#40c0a0'],[942.5,947.5,'#60f0c0'],[950,984,'#f820b0','InitVie'],[1344.5,1345.5,'#50d0b0'],[1390,1405,'#80f8d8'],[1405,1410,'#60e0d0'],[1526.5,1535.5,'#f890d0'],[1539,1546.5,'#f0e000'],[1547,1548,'#e0d000'],[1549,1550,'#c0b000']];
const rhi4=[[782.5,788,'#f8f070'],[795,802,'#c8a0e8'],[804.5,805.5,'#908040'],[819.5,820.5,'#f0f0f0'],[861.5,892.5,'#e8fcd8'],[895.5,896.5,'#f0f0e0'],[943,945,'#a0a080'],[946,947,'#e0e0c0'],[950.5,953,'#f0f0f0'],[953,983,'#70e0b8','STAT'],[1345,1346,'#a0a070'],[1390,1391.5,'#a0a080'],[1396,1403,'#f0f0e0'],[1406,1410,'#f0f0d0']];
const rhi5=[[804.5,805.5,'#807860'],[950,951.5,'#e0e0e0'],[954,969,'#d8e8c0','RH'],[1397.5,1399,'#8060a0']];
const rhi6=[[1397.5,1399,'#70a040']];

const rt0=[[0,78,'#8ced92'],[78,1568,'#8ced92','Frame (64.8 ms)']];
const rt1=[[0.5,8,'#f0d8c0'],[9,44,'#a8c8a8','SlateDr'],[46,47.5,'#f0f060'],[49,54,'#f0d080'],[54,59,'#c0a0e0'],[60.5,62,'#60e0e0'],[64,70,'#c0e060'],[70,74,'#c088f0'],[74,80,'#3090f0'],[80,84,'#8080f0'],[84,90,'#40a0f0'],[90,94,'#e080e0'],[94,100,'#80c8f0'],[100,106,'#f080f0'],[106,110,'#40c0e0'],[110,116,'#e090c0'],[116,120,'#90d0e0'],[120,126,'#c080f0'],[126,132,'#30d0f0'],[132,140,'#40b0f0'],[140,146,'#e090e0'],[146,152,'#60a0f0'],[152,155,'#8080e0'],[156,1568,'#ee80f5','FDrawSceneCommand (59.4 ms)']];
const rt2=[[1.5,2.5,'#a0c060'],[6,7,'#c0e0d0'],[9,45,'#e0c8d0','Slate::'],[45,50.5,'#d0d0a0'],[59,61.5,'#90c060'],[64.5,69.5,'#b0b0f0'],[72.5,76,'#c0e0f0'],[76,84,'#f8e0c0'],[84,90,'#c0f0e0'],[90,97,'#f0e0b0'],[97,106,'#d0f8c0'],[106,112,'#e8d0f8'],[112,118,'#c8e0f0'],[118,124,'#f0c0e0'],[124,130,'#a0f0e8'],[130,140,'#30f0d0'],[140,146,'#b0e8d0'],[146,152,'#60d8f0'],[152,156,'#90e8e0'],[157,1568,'#fedb9c','RenderViewFamily (58.8 ms)']];
const rt3=[[9,42,'#8a5fd8','Slate'],[42,46,'#f08080'],[62.5,65,'#a090c0'],[65,69.5,'#a8d860'],[75.5,107,'#fcfce8'],[107,110,'#a8a8a0'],[110,120,'#fcfce8'],[120,122,'#a8a8a0'],[122,131,'#f8f8e0'],[138,139,'#a0a0a0'],[141,142,'#a0a0a0'],[144.5,153,'#fcfce8'],[155,157,'#f0f0e0'],[160,269,'#c8f0d0','Scene::UpdateAllPrimiti'],[269.5,938.5,'#d075ee','STAT_FMobileSceneRenderer_Render (21.9 ms)'],[939,942,'#80b0c8'],[942.5,1331,'#c1b251','FRDGBuilder::FinalizeDescs (12.8 ms)'],[1332,1354,'#a8f0e0','FRD'],[1354,1358,'#80108a'],[1360,1374,'#3a6cd8','C'],[1375,1384,'#a0f090','F'],[1385,1420,'#c8ea40','EndFlu'],[1421,1568,'#f3c1a5','FRDGBuilder::ExecutePasses (17']];
const rt4=[[9,12.5,'#70c0d0'],[12.5,42,'#c0e860','Slate'],[62.5,64.5,'#5080b0'],[65,70,'#90c0f8'],[75.5,107,'#c8fcfc'],[107,110,'#9cc8c8'],[110,122,'#c8fcfc'],[122,131,'#c8fcfc'],[138,139.5,'#a0c8c8'],[141,144,'#a0c8c8'],[144.5,153,'#c8fcfc'],[155,157.5,'#90d0d0'],[160,269,'#dcb0e0','FScene_UpdateAllPrimi'],[273.5,283,'#f050a8','F'],[285,815,'#fa28a0','InitViews (17.3 ms)'],[816,854,'#30d880','FVirtua'],[855,859,'#a0e0d0'],[861,868,'#c8d880'],[868,887,'#c8e078','FSc'],[894,896.5,'#e0e020'],[899,930,'#e890d8','Finish'],[930,931.5,'#f09030'],[939,942,'#e0b0e8'],[944.5,1307,'#8ce68e','STAT_WaitForMeshPassSetupTask (11.9 ms)'],[1323.5,1328,'#70b090'],[1332,1339,'#f0f0a0'],[1339,1353,'#b0f8f8','Up'],[1353,1358,'#80d8f0'],[1360,1375,'#f8b8d8','F'],[1384,1389,'#d8b0e8'],[1389,1415.5,'#a8d8c8','Expli'],[1421,1568,'#8abf10','Execute (17.4 ms)']];
const rt5=[[9.5,11,'#f0e0d0'],[11,18.5,'#f0b040'],[22.5,26.5,'#50b8f0'],[30.5,42,'#90a0e8','St'],[75.5,107,'#c8e8d0'],[107,109,'#909890'],[109,120,'#c8e8d0'],[122,131,'#c8e8d0'],[138,139,'#a0b0a0'],[141,143,'#a0b0a0'],[144.5,153,'#c8e8d0'],[155,157,'#a0c0a0'],[160,269,'#a8b0f0','UpdatePrimitive (3.6 m'],[274,283,'#c8c030','V'],[287.5,292,'#80c0c0'],[293,637,'#a17e97','View Visibility (11.3 ms)'],[637,645,'#90e070'],[645.5,647,'#c020c0'],[648.5,649.5,'#a09070'],[654,689,'#f0d0d8','Dynam'],[689,721,'#a0d090','FScen'],[721,789,'#80c090','BuildCSMVisi'],[790,804,'#f040d8','P'],[804,810.5,'#8040f0'],[811,815,'#90d0b0'],[817,853,'#c8c838','Virtual'],[859,860.5,'#5080b0'],[867.5,887,'#80f040','FSc'],[895,897,'#e08040'],[900,929,'#e8e8c0','STAT'],[940,941.5,'#a06070'],[944,1307,'#ecdcd0','WaitUntilTasksComplete (11.9 ms)'],[1324.5,1328,'#f8f4e8'],[1338.5,1353.5,'#8a8a40'],[1362,1369,'#b060f0'],[1369,1374,'#f0d090'],[1374.5,1375.5,'#707070'],[1384,1388,'#d060e0'],[1388,1415,'#f0e0d0','Wait'],[1424,1428,'#d870e0'],[1428,1439,'#e080e0'],[1440,1447,'#e080e0'],[1448,1461,'#e070e0'],[1467,1472,'#a068b0'],[1472,1506,'#d070e0','STAT_'],[1508,1521,'#d878e8','S'],[1522,1526,'#e8b0f0'],[1526,1568,'#d068e0','STAT_FF']];
const rt6=[[10,12,'#a0d0c0'],[12,17,'#f87828'],[30,32,'#806090'],[33.5,36,'#a0a0a0'],[36,42,'#f8d0b0'],[77,80,'#8c8c58'],[80,81.5,'#c8c0a0'],[81.5,85,'#8c8c58'],[85,88,'#707838'],[88,89,'#c8c0a0'],[89,92,'#707838'],[92,96,'#a0a060'],[96,97.5,'#c8c0a0'],[97.5,100,'#a0a060'],[100,103,'#707838'],[103,104.5,'#c8c0a0'],[104.5,109,'#707838'],[109,110,'#c8c0a0'],[110,115,'#707838'],[115,120,'#c0b8a0'],[120,125,'#686c30'],[125,126.5,'#c8c0a0'],[126.5,132,'#686c30'],[138,150,'#807850'],[150,152,'#d0c0b0'],[152,157,'#807850'],[160,168,'#c8d0e8'],[172,177,'#f090b0'],[177,187,'#30e080','F'],[187,192,'#c0b0b0'],[195,207,'#a0f0d8'],[207.5,223.5,'#b010e0','FP'],[224,228,'#e0f080'],[230,253,'#d0b0f0','Upd'],[254,268.5,'#e8c080','Up'],[274,276,'#60e0c0'],[276,283,'#f0a068'],[287.5,290,'#60d0e0'],[290,293.5,'#f070d0'],[294,637,'#5c92e8','ProcessVisibilityTasks (11.3 ms)'],[637.5,642,'#b0e8d8'],[643,646.5,'#c8d860'],[654.5,689,'#f07850','FScen'],[689,720,'#8f70f0','Init dy'],[729.5,789,'#f588e8','STAT_Shad'],[803,804.5,'#809040'],[811.5,813,'#90b050'],[817,848,'#d0b8d8','FVirt'],[848,853,'#80f070'],[868,871,'#6050e0'],[871,886.5,'#d8d020','FS'],[912.5,914.5,'#d0f0e0'],[946,1307,'#fec0d4','WaitForTasks (11.9 ms)'],[1338.5,1354,'#90f0e0'],[1368.5,1374,'#70e0d0'],[1374,1376,'#909090'],[1428.5,1431.5,'#d05078'],[1436.5,1439,'#b0b0f0'],[1450.5,1454,'#d85080'],[1456,1458,'#d85080'],[1471.5,1506.5,'#a830e0','Paralle'],[1510,1521.5,'#9028d8','P'],[1523,1525,'#a08090'],[1527,1568,'#a0e8b0','FMobileS']];
const rt7=[[14,17.5,'#b0a080'],[34,36,'#f0c090'],[36,41,'#90b010'],[76.5,78,'#c0b090'],[78,105,'#90f0e0'],[105,106,'#c0b8a8'],[106,112,'#90f0e0'],[112,115,'#80e0d0'],[115,116,'#c0b8a8'],[116,123,'#80e0d0'],[123,125,'#c0d8c0'],[125,133,'#90f8e8'],[138,150,'#80e0d0'],[150,152,'#c0d0b0'],[152,157,'#90f0e0'],[160,163.5,'#7080f0'],[163.5,167,'#8040e0'],[174,185,'#f04848','U'],[186.5,190,'#f090b0'],[190,196.5,'#90d8e0'],[207,223,'#f0f0a0','ST'],[223,226.5,'#f0a040'],[230.5,253,'#c8f040','Asy'],[254,268.5,'#d0b888','ST'],[274,276,'#f0f0f0'],[281,283.5,'#90b0e0'],[287.5,290,'#a0a0a0'],[294.5,312,'#e0a010','Be'],[314.5,436,'#848478','ParallelFor (4 ms)'],[436.5,472.5,'#c8b880','Finaliz'],[474.5,637,'#f0e0d4','WaitUntilTasksComplete (5.3 ms)'],[637.5,642,'#c0e8d0'],[644,645.5,'#909080'],[654.5,687,'#f4e8d0','Gather'],[689,720,'#f0d0d8','Dyna'],[812.5,813.5,'#70b0e8'],[818,846,'#d0a8e0','Finali'],[848,853,'#90f0d8'],[873,885,'#e860e0','W'],[914,915.5,'#b090f0'],[1338.5,1343,'#f0d8c0'],[1370,1373.5,'#909090'],[1435,1436.5,'#809040'],[1437,1438.5,'#b0c060'],[1453,1457,'#c06080'],[1457,1458,'#60a0a0'],[1471.5,1506.5,'#3e98d8','STAT_'],[1510,1521.5,'#3e98d8','S'],[1527,1568,'#d0e898','Depth dr']];
const rt8=[[34.5,40,'#f090f0'],[160.5,166.5,'#d0e060'],[175.5,186.5,'#c0c0f0'],[191.5,197,'#a09080'],[207,223,'#909090','Pa'],[224,226,'#f07040'],[231.5,253,'#b0e0b0'],[254,268.5,'#f05070','Up'],[275,276.5,'#7050f0'],[281.5,284,'#c030e0'],[290,291.5,'#e0e040'],[297,299,'#d0d0d0'],[299,312,'#909090','P'],[314.5,436,'#848478','ParallelFor (4 ms)'],[436.5,472,'#7c98c8','STAT_'],[476,492,'#f8f050','D'],[492,537,'#f8f050','Dynami'],[537,556,'#f0e870','D'],[556,560,'#f0e090'],[560.5,639,'#f8f860'],[654.5,668,'#706070','Cr'],[669,688.5,'#909090','Pa'],[689,720,'#88a8e8','FScen'],[819,847.5,'#60f0e8','FVirt'],[873,885,'#d890e0','S'],[1339.5,1342.5,'#d0a0e0'],[1370.5,1374.5,'#e05090'],[1435.5,1439,'#6090d0'],[1471.5,1472.5,'#70d070'],[1509,1510.5,'#70a070'],[1528,1568,'#a830e0','ParallelN']];
const rt9=[[35,36.5,'#90e0e0'],[38.5,40.5,'#909060'],[160.5,161.5,'#c060f0'],[191.5,195,'#d0f060'],[207,222.5,'#909090','Pa'],[225,226.5,'#606050'],[231.5,253,'#b8d878'],[254,268.5,'#e8b090','Up'],[290,291,'#f0f0f0'],[297.5,312,'#909090','P'],[314.5,385.5,'#68b8e8','ParallelFor Tas'],[385.5,436,'#70e0c8','ParallelFo'],[476.5,484,'#f06878','P'],[484,492,'#f8a0c8'],[492,537,'#f0e0c0','RT Total'],[537,546,'#f4e8c8','R'],[547,559.5,'#f8f0d8'],[560.5,594,'#f878c0'],[595,637,'#70c868'],[654.5,669,'#a080f0','Ini'],[669,688.5,'#909090','Pa'],[689,720,'#3aa0e0','STAT'],[820.5,822.5,'#a090a0'],[827.5,845,'#88b030','Ad'],[1339.5,1342.5,'#e88090'],[1471.5,1472.5,'#e0d8d0'],[1509,1510.5,'#908880'],[1528,1568,'#3e98d8','STAT_M']];
const rt10=[[35.5,41,'#70b0a0'],[193.5,197,'#3070e0'],[207,222.5,'#60b8f0','Pa'],[225,226.5,'#70a090'],[231.5,253,'#90c0f8'],[255,265,'#90c890','U'],[298.5,312,'#d06090','S'],[314.5,327,'#fcfcfc','C'],[327,335,'#fcfcfc','C'],[336.5,345,'#fcfcfc'],[345,361,'#fcfcfc','C'],[361,372,'#fcfcfc','C'],[372,378,'#fcfcfc','C'],[378,386,'#fcfcfc'],[476.5,485,'#f0f0d0','R'],[485,492,'#f870e8'],[492,537,'#f870e8','Get Dyn'],[545.5,559.5,'#f870e0'],[595,637,'#a8b0d8'],[654.5,656.5,'#9070f0'],[664.5,670,'#f0f0f0'],[671.5,682,'#70c0f0','P'],[682,688,'#90e8c8'],[689,694,'#60e040'],[694.5,704,'#a0a0a0','P'],[705,720,'#f0e8d0','Se'],[834,835,'#70a0a8'],[1527.5,1529,'#70d070']];
const rt11=[[35.5,37,'#b05080'],[207,221.5,'#fcc8f8','F'],[254.5,258.5,'#607020'],[258.5,266,'#5090f0'],[298.5,312,'#d8d040','S'],[314.5,327,'#807078','C'],[327,335,'#807078','C'],[336.5,345,'#807078'],[345,361,'#807078','C'],[361,372,'#807078','C'],[372,386,'#807078','C'],[477,484,'#90b020'],[485,491.5,'#f0f0f0'],[492.5,533,'#e8e860','/Game/'],[533,537,'#30d0d0'],[545.5,559.5,'#d0f0f8'],[595,637,'#d0f0e0'],[666,668,'#d0d090'],[691.5,694,'#80d0e0'],[694.5,704,'#a0a0a0','P'],[705,720,'#a0b060'],[834,835,'#a09080'],[1527.5,1529,'#d0c0b0']];
const rt12=[[254.5,258.5,'#70e0e0'],[258.5,266,'#909090'],[477.5,485,'#c0b0f0'],[492.5,529,'#a08c60','FX_NS'],[546.5,559.5,'#a090c0'],[691.5,696.5,'#c0a8d0'],[702,709,'#404860'],[709,712,'#c070d0'],[712,720,'#404860']];
const rt13=[[258.5,266,'#908878'],[477.5,485,'#b0b8a8'],[493.5,525,'#6c6c30','STAT_'],[705,720,'#f8f850']];
const rt14=[[258.5,266,'#a0e090'],[479,482.5,'#707030'],[493,525,'#70e0d8','STAT_'],[705,714,'#80c070'],[714,720,'#f070a0']];
const rt15=[[479,482.5,'#70f0e0'],[705.5,708.5,'#8090d0'],[712,716.5,'#8090d0']];
const rt16=[[706.5,708.5,'#c8f0e0'],[713,716.5,'#c8f0e0']];

const async0=[[0,827,'#44cf93','FStorage_Pump (30.2 ms)'],[827,829,'#80e0d0'],[829,1568,'#44cf93','Package_Temp3 (31.6 ms)']];
const async1=[[827,829,'#e08060']];

const threadNames=['◊ GameThread','RHIThread','RenderThread 0','FAsyncLoadingThread'];
const tracks=[
 {base:0.463,rows:[game0,game1,game2,game3,game4,game5,game6,game7,game8,game9,game10,game11,game12.concat(game12Slices),game13.concat(game13Slices),game14.concat(game14Slices),game15.concat(game15Slices),game16.concat(game16Slices),game17.concat(game17Slices),game18,game19,game20,game21,game22,game23,game24,game25,game26,game27,game28,game29]},
 {base:30.67,rows:[rhi0,rhi1,rhi2,rhi3,rhi4,rhi5,rhi6]},
 {base:37.86,rows:[rt0,rt1,rt2,rt3,rt4,rt5,rt6,rt7,rt8,rt9,rt10,rt11,rt12,rt13,rt14,rt15,rt16]},
 {base:55.11,rows:[async0,async1]}
];
const spans=[];
tracks.forEach(t=>t.rows.forEach((row,d)=>row.forEach(s=>spans.push({start:s[0],end:s[1],lane:t.base+d,color:s[2],label:s[3]||''}))));

const FONT='Roboto';
const TEXT_SCALE=0.83;
function textColor(h){const n=parseInt(h.slice(1),16);const r=n>>16,g=(n>>8)&255,b=n&255;
 return (0.2*r+0.7*g+0.1*b)<158?'#ffffff':'#1c1c1c';}
function renderItem(params,api){
 const s=spans[api.value(3)];
 const a=api.coord([api.value(0),api.value(2)]);
 const b=api.coord([api.value(1),api.value(2)]);
 const h=api.size([0,0.89])[1];
 const w=Math.max(b[0]-a[0],1);
 const rect={type:'rect',shape:{x:a[0],y:a[1],width:w,height:h},
   style:{fill:s.color,stroke:w>3?'rgba(30,30,30,0.35)':null,lineWidth:w>3?1:0}};
 if(!s.label)return rect;
 return {type:'group',clipPath:{type:'rect',shape:{x:a[0],y:a[1],width:w,height:h}},children:[rect,
  {type:'text',x:a[0]+2.5,y:a[1]+h/2+1,scaleX:TEXT_SCALE,
   style:{text:s.label,fill:textColor(s.color),font:'12.5px '+FONT,verticalAlign:'middle',align:'left'}}]};
}
const threadBox=(i,x,y,w,h)=>[
 {type:'rect',z:100,shape:{x:x,y:y,width:w,height:h},style:{fill:'rgba(45,45,45,0.82)'}},
 {type:'text',z:101,x:x+2,y:y+h/2+1,scaleX:TEXT_SCALE,style:{text:threadNames[i],fill:'#e4e4e4',font:'12.5px '+FONT,verticalAlign:'middle',align:'left'}}];
const chart=echarts.init(document.getElementById('c'),null,{renderer:'canvas'});
chart.setOption({
 backgroundColor:'#4a4a4a',animation:false,
 grid:{left:0,right:0,top:0,bottom:0},
 xAxis:{type:'value',min:0,max:1568,show:false},
 yAxis:{type:'value',min:0,max:56.95,inverse:true,show:false},
 series:[{type:'custom',coordinateSystem:'cartesian2d',silent:true,clip:true,progressive:0,
  encode:{x:[0,1],y:2},renderItem,
  data:spans.map((s,i)=>[s.start,s.end,s.lane,i])}],
 graphic:{elements:[
  {type:'rect',z:100,shape:{x:0,y:0,width:1600,height:3},style:{fill:'#262626'}},
  ...threadBox(0,0,4,71,12),
  ...threadBox(1,0,481,53,11),
  ...threadBox(2,0,594,78,11),
  ...threadBox(3,0,865,109,12)
 ]}
});
</script></body></html>
